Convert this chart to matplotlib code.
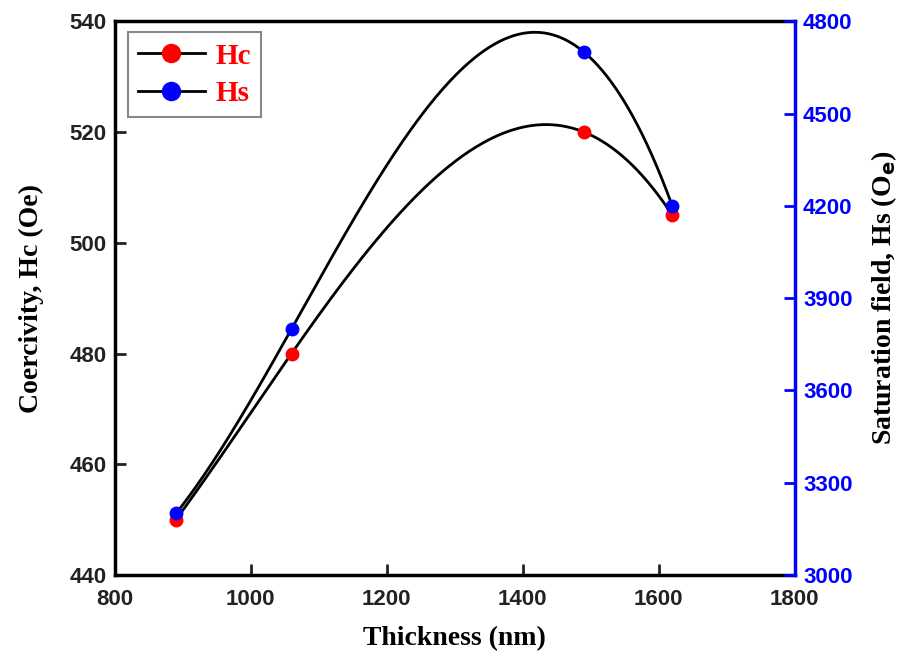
import numpy as np
import matplotlib.pyplot as plt

thickness = [890, 1060, 1490, 1620]
hc = [450, 480, 520, 505]
hs = [3200, 3800, 4700, 4200]

tick_font = ['Liberation Sans', 'DejaVu Sans']
label_font = ['Liberation Serif', 'DejaVu Serif']

fig, ax = plt.subplots(figsize=(9.04, 6.64), dpi=100)
fig.subplots_adjust(left=0.127, right=0.879, top=0.968, bottom=0.134)
ax2 = ax.twinx()

# smooth curves through the points (cubic through 4 points)
xs = np.linspace(min(thickness), max(thickness), 300)
hc_fit = np.polyval(np.polyfit(thickness, hc, 3), xs)
hs_fit = np.polyval(np.polyfit(thickness, hs, 3), xs)

ax.plot(xs, hc_fit, color='k', lw=2, zorder=2)
ax2.plot(xs, hs_fit, color='k', lw=2, zorder=2)
ax.plot(thickness, hc, 'o', color='red', ms=9, zorder=3)
ax2.plot(thickness, hs, 'o', color='blue', ms=9, zorder=3)

# legend handles
h1, = ax.plot([], [], '-o', color='k', mfc='red', mec='red', ms=13, lw=2, label='Hc')
h2, = ax.plot([], [], '-o', color='k', mfc='blue', mec='blue', ms=13, lw=2, label='Hs')
leg = ax.legend(handles=[h1, h2], loc='upper left', bbox_to_anchor=(0.019, 0.98),
                borderaxespad=0,
                prop={'family': label_font, 'weight': 'bold', 'size': 21},
                fancybox=False, edgecolor='#888888', framealpha=1, handlelength=2.3,
                borderpad=0.35, labelspacing=0.35, handletextpad=0.35)
leg.get_frame().set_linewidth(1.5)
for t in leg.get_texts():
    t.set_color('red')

ax.set_xlim(800, 1800)
ax.set_ylim(440, 540)
ax2.set_ylim(3000, 4800)
ax.set_xticks([800, 1000, 1200, 1400, 1600, 1800])
ax.set_yticks([440, 460, 480, 500, 520, 540])
ax2.set_yticks([3000, 3300, 3600, 3900, 4200, 4500, 4800])

ax.tick_params(direction='in', length=8, width=2, labelsize=16, pad=6, colors='#222222')
ax.tick_params(axis='x', pad=10)
ax2.tick_params(direction='in', length=8, width=2, labelsize=16, colors='blue', pad=6)
for lab in ax.get_xticklabels() + ax.get_yticklabels() + ax2.get_yticklabels():
    lab.set_family(tick_font)
    lab.set_fontweight('bold')

for s in ['left', 'top', 'bottom']:
    ax.spines[s].set_linewidth(2.5)
ax2.spines['right'].set_color('blue')
ax2.spines['right'].set_linewidth(2.5)
for s in ['left', 'top', 'bottom']:
    ax2.spines[s].set_visible(False)

ax.set_xlabel('Thickness (nm)', family=label_font, fontweight='bold', fontsize=20, labelpad=12)
ax.set_ylabel('Coercivity, Hc (Oe)', family=label_font, fontweight='bold', fontsize=20, labelpad=18)
ax2.set_ylabel('Saturation field, Hs (O$_\\mathbf{e}$)', family=label_font, fontweight='bold',
               fontsize=20, labelpad=12)

plt.savefig('out.png', dpi=100)
